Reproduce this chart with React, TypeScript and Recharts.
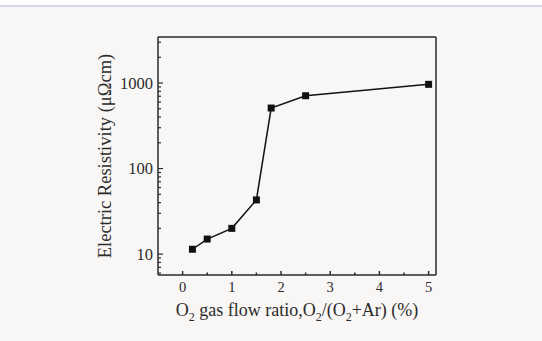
import { LineChart, Line, XAxis, YAxis, Label } from "recharts";

const ratio = [0.2, 0.5, 1, 1.5, 1.8, 2.5, 5];
const resistivity = [11.4, 15, 20, 43, 510, 710, 965];
const xMajor = [0, 1, 2, 3, 4, 5];
const xMinor = [0.5, 1.5, 2.5, 3.5, 4.5];
const yMajor = [10, 100, 1000];
const yMinor = [6, 7, 8, 9, 20, 30, 40, 50, 60, 70, 80, 90, 200, 300, 400, 500, 600, 700, 800, 900, 2000, 3000];
const xDomain = [-0.5, 5.15];
const yDomain = [5.7, 3450];

const data = ratio.map((x, i) => ({ x, y: resistivity[i] }));

const font = "'Liberation Serif', 'Times New Roman', serif";
const ink = "#2b2b2b";

const XTick = (props: any) => {
  const { x, y, payload } = props;
  const major = xMajor.includes(payload.value);
  return (
    <g>
      <line x1={x} x2={x} y1={y} y2={y - (major ? 4 : 2.5)} stroke={ink} strokeWidth={1.5} />
      {major && (
        <text x={x} y={y + 17} textAnchor="middle" fontFamily={font} fontSize={14.5} fill={ink}>
          {payload.value}
        </text>
      )}
    </g>
  );
};

const YTick = (props: any) => {
  const { x, y, payload } = props;
  const major = yMajor.includes(payload.value);
  return (
    <g>
      <line x1={x} x2={x + (major ? 5 : 3)} y1={y} y2={y} stroke={ink} strokeWidth={1.2} />
      {major && (
        <text x={x - 5} y={y + 5.5} textAnchor="end" fontFamily={font} fontSize={16.5} fill={ink}>
          {payload.value}
        </text>
      )}
    </g>
  );
};

const SquareDot = (props: any) => (
  <rect key={props.index} x={props.cx - 3.5} y={props.cy - 3.5} width={7} height={7} fill="#111" />
);

const XTitle = (props: any) => {
  const { viewBox } = props;
  const cx = viewBox.x + viewBox.width / 2;
  const by = viewBox.y + 41;
  return (
    <text x={cx} y={by} textAnchor="middle" fontFamily={font} fontSize={18} fill={ink}>
      <tspan>O</tspan>
      <tspan dy={5} fontSize={12}>2</tspan>
      <tspan dy={-5}> gas flow ratio,O</tspan>
      <tspan dy={5} fontSize={12}>2</tspan>
      <tspan dy={-5}>/(O</tspan>
      <tspan dy={5} fontSize={12}>2</tspan>
      <tspan dy={-5}>+Ar) (%)</tspan>
    </text>
  );
};

const YTitle = (props: any) => {
  const { viewBox } = props;
  const cx = viewBox.x + 45;
  const cy = viewBox.y + viewBox.height / 2;
  return (
    <text
      x={cx}
      y={cy}
      transform={`rotate(-90 ${cx} ${cy})`}
      textAnchor="middle"
      dominantBaseline="central"
      fontFamily={font}
      fontSize={18.5}
      fill={ink}
    >
      Electric Resistivity (μΩcm)
    </text>
  );
};

export default function App() {
  return (
    <div style={{ position: "absolute", left: 0, top: 0, width: 542, height: 341, background: "#f9f7f5" }}>
      <div style={{ position: "absolute", left: 0, top: 0, width: 542, height: 5, background: "#ffffff" }} />
      <div style={{ position: "absolute", left: 0, top: 5, width: 542, height: 2, background: "#dcd7e6" }} />
      <LineChart
        width={542}
        height={341}
        data={data}
        margin={{ top: 37, right: 106, bottom: 0, left: 60 }}
      >
        <XAxis
          xAxisId="x"
          dataKey="x"
          type="number"
          domain={xDomain}
          allowDataOverflow
          ticks={[...xMajor, ...xMinor].sort((a, b) => a - b)}
          interval={0}
          tickSize={0}
          tickMargin={0}
          tickLine={false}
          tick={<XTick />}
          axisLine={{ stroke: ink, strokeWidth: 1.5 }}
          height={66}
        >
          <Label content={<XTitle />} />
        </XAxis>
        <XAxis
          xAxisId="top"
          orientation="top"
          type="number"
          domain={xDomain}
          allowDataOverflow
          mirror
          tick={false}
          tickLine={false}
          axisLine={{ stroke: ink, strokeWidth: 1.5 }}
        />
        <YAxis
          yAxisId="y"
          dataKey="y"
          scale="log"
          type="number"
          domain={yDomain}
          allowDataOverflow
          ticks={[...yMajor, ...yMinor].sort((a, b) => a - b)}
          interval={0}
          tickSize={0}
          tickMargin={0}
          tickLine={false}
          tick={<YTick />}
          axisLine={{ stroke: ink, strokeWidth: 1.5 }}
          width={98}
        >
          <Label content={<YTitle />} />
        </YAxis>
        <YAxis
          yAxisId="right"
          orientation="right"
          scale="log"
          type="number"
          domain={yDomain}
          allowDataOverflow
          mirror
          tick={false}
          tickLine={false}
          axisLine={{ stroke: ink, strokeWidth: 1.5 }}
        />
        <Line
          xAxisId="x"
          yAxisId="y"
          dataKey="y"
          type="linear"
          stroke="#111"
          strokeWidth={1.5}
          dot={<SquareDot />}
          isAnimationActive={false}
        />
      </LineChart>
    </div>
  );
}
